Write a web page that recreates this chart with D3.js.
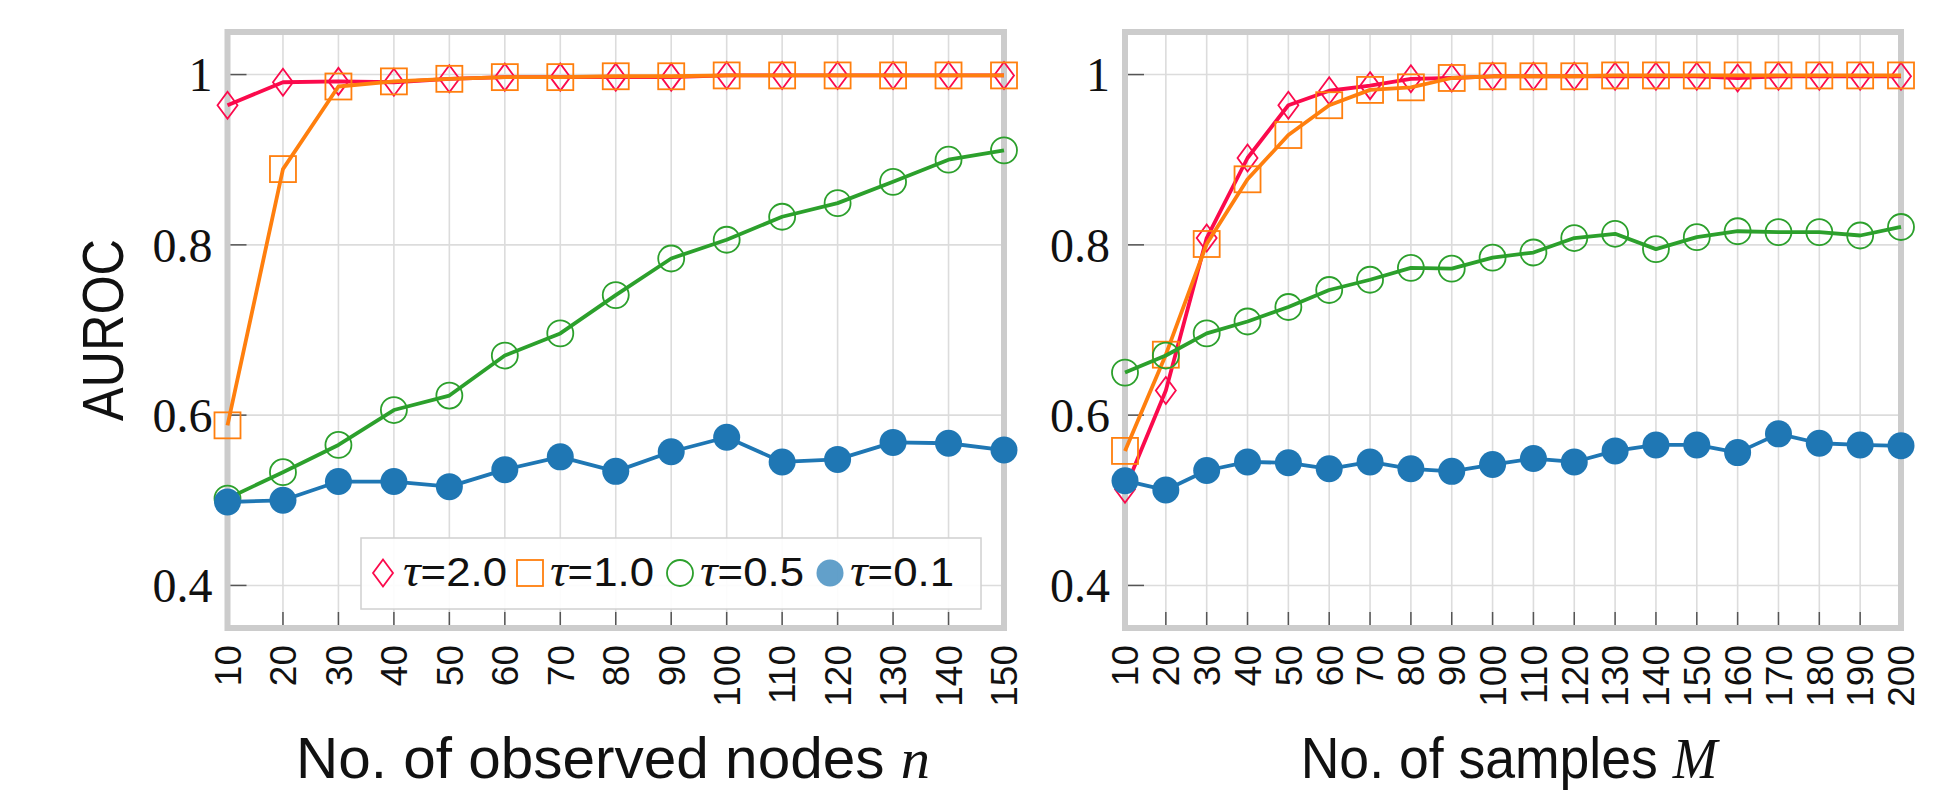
<!DOCTYPE html>
<html>
<head>
<meta charset="utf-8">
<script src="https://cdn.jsdelivr.net/npm/d3@7"></script>
<style>
  body { margin: 0; background: #fff; }
  .ylab { font-family: "Liberation Serif", serif; font-size: 48px; fill: #111; }
  .xlab { font-family: "Liberation Sans", Arial, sans-serif; font-size: 37px; fill: #111; }
  .title { font-family: "Liberation Sans", Arial, sans-serif; font-size: 57px; fill: #111; }
  .math { font-family: "Liberation Serif", serif; font-style: italic; }
  .legtext { font-family: "Liberation Sans", Arial, sans-serif; font-size: 41px; fill: #111; }
</style>
</head>
<body>
<script>
// Tick values for both panels
var nodeTicks = [10, 20, 30, 40, 50, 60, 70, 80, 90, 100, 110, 120, 130, 140, 150];
var sampleTicks = [10, 20, 30, 40, 50, 60, 70, 80, 90, 100, 110, 120, 130, 140, 150, 160, 170, 180, 190, 200];
var yTicks = [0.4, 0.6, 0.8, 1];
var yTickLabels = ["0.4", "0.6", "0.8", "1"];
var tauLabels = ["2.0", "1.0", "0.5", "0.1"];

// Left panel: AUROC vs. number of observed nodes n
var nodesTau20 = [0.964, 0.991, 0.992, 0.991, 0.995, 0.997, 0.997, 0.997, 0.997, 0.999, 0.999, 0.999, 0.999, 0.999, 0.999];
var nodesTau10 = [0.588, 0.889, 0.986, 0.992, 0.995, 0.997, 0.997, 0.998, 0.998, 0.999, 0.999, 0.999, 0.999, 0.999, 0.999];
var nodesTau05 = [0.502, 0.533, 0.565, 0.606, 0.623, 0.670, 0.696, 0.741, 0.784, 0.806, 0.833, 0.849, 0.874, 0.900, 0.911];
var nodesTau01 = [0.498, 0.500, 0.522, 0.522, 0.516, 0.536, 0.551, 0.534, 0.557, 0.574, 0.545, 0.548, 0.568, 0.567, 0.559];

// Right panel: AUROC vs. number of samples M
var samplesTau20 = [0.513, 0.629, 0.808, 0.902, 0.964, 0.981, 0.987, 0.995, 0.996, 0.998, 0.998, 0.998, 0.998, 0.998, 0.998, 0.996, 0.998, 0.998, 0.998, 0.998];
var samplesTau10 = [0.558, 0.671, 0.801, 0.877, 0.929, 0.964, 0.982, 0.985, 0.996, 0.998, 0.998, 0.998, 0.999, 0.999, 0.999, 0.999, 0.999, 0.999, 0.999, 0.999];
var samplesTau05 = [0.650, 0.670, 0.696, 0.710, 0.727, 0.747, 0.759, 0.773, 0.772, 0.785, 0.791, 0.808, 0.813, 0.795, 0.809, 0.816, 0.815, 0.815, 0.811, 0.821];
var samplesTau01 = [0.523, 0.512, 0.535, 0.545, 0.544, 0.537, 0.545, 0.537, 0.534, 0.542, 0.549, 0.545, 0.558, 0.565, 0.565, 0.556, 0.578, 0.567, 0.565, 0.564];

var svgWidth = 1951;
var svgHeight = 794;

var colors = ["#fb0a4c", "#ff7f0e", "#2ca02c", "#1f77b4"];
var markers = ["diamond", "square", "circle", "dot"];

var svg = d3.select("body")
  .append("svg")
  .attr("width", svgWidth)
  .attr("height", svgHeight);

// shared y scale (both panels have the same height)
var yScale = d3.scaleLinear()
  .domain([0.35, 1.05])
  .range([628, 32]);

// draw one marker shape centred on 0,0
function addMarker(g, kind, color) {
  if (kind === "diamond") {
    g.append("path").attr("d", "M0,-13.5L10,0L0,13.5L-10,0Z")
      .attr("fill", "none").attr("stroke", color).attr("stroke-width", 1.8);
  } else if (kind === "square") {
    g.append("rect").attr("x", -13).attr("y", -13).attr("width", 26).attr("height", 26)
      .attr("fill", "none").attr("stroke", color).attr("stroke-width", 1.8);
  } else if (kind === "circle") {
    g.append("circle").attr("r", 13)
      .attr("fill", "none").attr("stroke", color).attr("stroke-width", 1.8);
  } else {
    g.append("circle").attr("r", 13.5).attr("fill", color);
  }
}

// squeeze a text element horizontally so it is `width` px wide, centred on cx
function fitWidth(textSel, cx, y, width) {
  var w = textSel.node().getBBox().width;
  textSel.attr("x", 0).attr("y", 0)
    .attr("transform", "translate(" + cx + "," + y + ") scale(" + (width / w) + ",1)");
}

function drawPanel(ticks, seriesList, x0, x1, titleText, titleMath, titleCx, titleWidth) {
  var xScale = d3.scaleLinear()
    .domain([ticks[0], ticks[ticks.length - 1]])
    .range([x0, x1]);

  var panel = svg.append("g");

  // grid lines
  panel.append("g").selectAll("line.vg").data(ticks).enter().append("line")
    .attr("x1", d => xScale(d)).attr("x2", d => xScale(d))
    .attr("y1", yScale.range()[0]).attr("y2", yScale.range()[1])
    .attr("stroke", "#dcdcdc").attr("stroke-width", 1.6);
  panel.append("g").selectAll("line.hg").data(yTicks).enter().append("line")
    .attr("x1", x0).attr("x2", x1)
    .attr("y1", d => yScale(d)).attr("y2", d => yScale(d))
    .attr("stroke", "#dcdcdc").attr("stroke-width", 1.6);

  // tick marks (inside the frame)
  panel.append("g").selectAll("line").data(yTicks).enter().append("line")
    .attr("x1", x0).attr("x2", x0 + 19)
    .attr("y1", d => yScale(d)).attr("y2", d => yScale(d))
    .attr("stroke", "#555").attr("stroke-width", 1.5);
  panel.append("g").selectAll("line").data(ticks).enter().append("line")
    .attr("x1", d => xScale(d)).attr("x2", d => xScale(d))
    .attr("y1", yScale.range()[0]).attr("y2", yScale.range()[0] - 16)
    .attr("stroke", "#555").attr("stroke-width", 1.5);

  // frame
  panel.append("rect")
    .attr("x", x0).attr("y", yScale.range()[1])
    .attr("width", x1 - x0).attr("height", yScale.range()[0] - yScale.range()[1])
    .attr("fill", "none").attr("stroke", "#cccccc").attr("stroke-width", 6);

  // y tick labels
  panel.append("g").selectAll("text").data(yTicks).enter().append("text")
    .attr("class", "ylab")
    .attr("x", x0 - 15).attr("y", d => yScale(d))
    .attr("dy", "0.35em")
    .attr("text-anchor", "end")
    .text((d, i) => yTickLabels[i]);

  // x tick labels, rotated
  panel.append("g").selectAll("text").data(ticks).enter().append("text")
    .attr("class", "xlab")
    .attr("transform", d => "translate(" + xScale(d) + ",645) rotate(-90)")
    .attr("dy", "0.36em")
    .attr("text-anchor", "end")
    .text(d => d);

  // series: line then markers, in legend order
  var line = d3.line()
    .x((d, i) => xScale(ticks[i]))
    .y(d => yScale(d));

  seriesList.forEach(function(values, s) {
    panel.append("path")
      .attr("d", line(values))
      .attr("fill", "none")
      .attr("stroke", colors[s])
      .attr("stroke-width", 3.8)
      .attr("stroke-linejoin", "round");
    values.forEach(function(v, i) {
      var g = panel.append("g")
        .attr("transform", "translate(" + xScale(ticks[i]) + "," + yScale(v) + ")");
      addMarker(g, markers[s], colors[s]);
    });
  });

  // axis title
  var t = panel.append("text")
    .attr("class", "title")
    .attr("text-anchor", "middle");
  t.append("tspan").text(titleText);
  t.append("tspan").attr("class", "math").text(titleMath);
  fitWidth(t, titleCx, 778, titleWidth);

  return xScale;
}

drawPanel(nodeTicks, [nodesTau20, nodesTau10, nodesTau05, nodesTau01], 227.5, 1004,
  "No. of observed nodes ", "n", 613, 634);
drawPanel(sampleTicks, [samplesTau20, samplesTau10, samplesTau05, samplesTau01], 1125, 1901,
  "No. of samples ", "M", 1509, 420);

// y axis label
svg.append("text")
  .attr("class", "title")
  .attr("transform", "translate(102,330) rotate(-90)")
  .attr("dy", "0.36em")
  .attr("text-anchor", "middle")
  .attr("textLength", 182)
  .attr("lengthAdjust", "spacingAndGlyphs")
  .text("AUROC");

// legend inside the left panel
var legend = svg.append("g");
legend.append("rect")
  .attr("x", 361).attr("y", 538).attr("width", 620).attr("height", 71)
  .attr("fill", "#fff").attr("fill-opacity", 0.9)
  .attr("stroke", "#d0d0d0").attr("stroke-width", 1.5);

var legendX = [383, 530, 680, 830];
tauLabels.forEach(function(lab, i) {
  var g = legend.append("g").attr("transform", "translate(" + legendX[i] + ",573)");
  if (i === 3) {
    g.append("circle").attr("r", 13.5).attr("fill", colors[3]).attr("fill-opacity", 0.7);
  } else {
    addMarker(g, markers[i], colors[i]);
  }
  var t = legend.append("text")
    .attr("class", "legtext")
    .attr("x", legendX[i] + 20).attr("y", 586)
    .attr("textLength", 104)
    .attr("lengthAdjust", "spacingAndGlyphs");
  t.append("tspan").attr("class", "math").attr("font-size", "46px").text("\u03c4");
  t.append("tspan").text("=" + lab);
});
</script>
</body>
</html>
